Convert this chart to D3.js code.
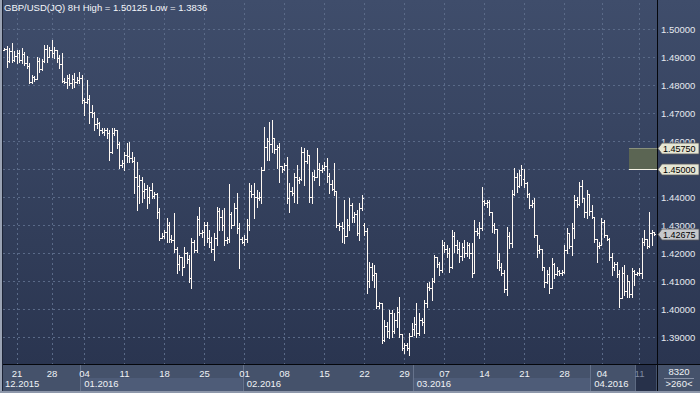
<!DOCTYPE html>
<html>
<head>
<meta charset="utf-8">
<script src="https://cdn.jsdelivr.net/npm/d3@7"></script>
<style>
html, body { margin: 0; padding: 0; background: #2c3852; }
svg { display: block; font-family: "Liberation Sans", Arial, sans-serif; }
</style>
</head>
<body>
<div id="chart"></div>
<script>
// GBP/USD 8H bars (one value per bar)
var opens = [
    1.4926,1.4930,1.4885,1.4920,1.4890,1.4905,1.4915,1.4890,1.4912,1.4880,
    1.4868,1.4812,1.4828,1.4822,1.4885,1.4858,1.4885,1.4930,1.4900,1.4925,
    1.4915,1.4925,1.4895,1.4875,1.4815,1.4810,1.4825,1.4806,1.4822,1.4810,
    1.4818,1.4825,1.4745,1.4740,1.4750,1.4705,1.4700,1.4660,1.4665,1.4640,
    1.4632,1.4640,1.4630,1.4560,1.4630,1.4638,1.4590,1.4515,1.4520,1.4550,
    1.4545,1.4540,1.4530,1.4470,1.4440,1.4460,1.4420,1.4430,1.4400,1.4425,
    1.4405,1.4410,1.4345,1.4255,1.4262,1.4275,1.4300,1.4250,1.4245,1.4215,
    1.4160,1.4185,1.4150,1.4200,1.4180,1.4110,1.4240,1.4210,1.4320,1.4270,
    1.4275,1.4300,1.4255,1.4240,1.4215,1.4255,1.4350,1.4330,1.4300,1.4245,
    1.4250,1.4340,1.4300,1.4360,1.4290,1.4250,1.4240,1.4250,1.4300,1.4420,
    1.4410,1.4400,1.4395,1.4400,1.4495,1.4580,1.4600,1.4590,1.4610,1.4570,
    1.4580,1.4510,1.4500,1.4515,1.4395,1.4420,1.4415,1.4470,1.4460,1.4465,
    1.4560,1.4530,1.4550,1.4400,1.4475,1.4470,1.4500,1.4495,1.4505,1.4510,
    1.4475,1.4445,1.4430,1.4420,1.4300,1.4295,1.4290,1.4260,1.4300,1.4370,
    1.4330,1.4340,1.4270,1.4360,1.4300,1.4280,1.4100,1.4150,1.4120,1.4130,
    1.4010,1.4020,1.3890,1.3940,1.3920,1.3985,1.3920,1.3960,1.3990,1.3910,
    1.3860,1.3870,1.3860,1.3905,1.3930,1.3945,1.3915,1.3960,1.3955,1.4020,
    1.4080,1.4075,1.4100,1.4185,1.4160,1.4140,1.4230,1.4215,1.4200,1.4150,
    1.4260,1.4230,1.4215,1.4190,1.4220,1.4200,1.4230,1.4200,1.4130,1.4280,
    1.4270,1.4290,1.4385,1.4378,1.4383,1.4345,1.4300,1.4285,1.4175,1.4150,
    1.4130,1.4070,1.4260,1.4235,1.4410,1.4470,1.4440,1.4480,1.4465,1.4450,
    1.4410,1.4370,1.4380,1.4265,1.4210,1.4215,1.4150,1.4095,1.4125,1.4075,
    1.4160,1.4125,1.4135,1.4128,1.4132,1.4210,1.4270,1.4225,1.4290,1.4390,
    1.4375,1.4440,1.4395,1.4345,1.4410,1.4350,1.4330,1.4250,1.4225,1.4230,
    1.4310,1.4265,1.4250,1.4185,1.4150,1.4160,1.4125,1.4040,1.4130,1.4065,
    1.4100,1.4055,1.4135,1.4125,1.4128,1.4130,1.4240,1.4250,1.4225,1.4270,
    1.4275
];
var highs = [
    1.4932,1.4939,1.4931,1.4949,1.4921,1.4925,1.4925,1.4931,1.4919,1.4905,
    1.4877,1.4836,1.4832,1.4901,1.4898,1.4893,1.4943,1.4943,1.4937,1.4961,
    1.4937,1.4925,1.4907,1.4913,1.4824,1.4836,1.4840,1.4836,1.4842,1.4830,
    1.4848,1.4836,1.4753,1.4818,1.4764,1.4729,1.4702,1.4681,1.4669,1.4645,
    1.4645,1.4645,1.4639,1.4645,1.4645,1.4640,1.4598,1.4532,1.4562,1.4592,
    1.4598,1.4562,1.4544,1.4526,1.4479,1.4473,1.4449,1.4443,1.4437,1.4449,
    1.4419,1.4413,1.4360,1.4270,1.4282,1.4324,1.4312,1.4264,1.4342,1.4223,
    1.4193,1.4187,1.4223,1.4205,1.4193,1.4252,1.4246,1.4333,1.4365,1.4282,
    1.4312,1.4312,1.4282,1.4258,1.4270,1.4365,1.4360,1.4354,1.4360,1.4258,
    1.4446,1.4348,1.4377,1.4413,1.4306,1.4258,1.4264,1.4321,1.4449,1.4443,
    1.4449,1.4425,1.4419,1.4508,1.4651,1.4610,1.4669,1.4675,1.4610,1.4586,
    1.4592,1.4510,1.4520,1.4544,1.4449,1.4437,1.4484,1.4514,1.4473,1.4580,
    1.4574,1.4568,1.4550,1.4490,1.4496,1.4574,1.4520,1.4514,1.4526,1.4538,
    1.4484,1.4461,1.4520,1.4420,1.4306,1.4312,1.4389,1.4321,1.4395,1.4377,
    1.4348,1.4354,1.4377,1.4407,1.4306,1.4288,1.4169,1.4163,1.4157,1.4130,
    1.4026,1.4020,1.3961,1.3955,1.3996,1.3996,1.3985,1.4008,1.4044,1.3910,
    1.3877,1.3877,1.3913,1.3949,1.3973,1.4020,1.3985,1.3967,1.4032,1.4092,
    1.4098,1.4110,1.4193,1.4187,1.4169,1.4246,1.4240,1.4229,1.4217,1.4282,
    1.4276,1.4246,1.4240,1.4235,1.4246,1.4240,1.4235,1.4235,1.4318,1.4288,
    1.4312,1.4437,1.4389,1.4389,1.4389,1.4345,1.4306,1.4285,1.4199,1.4163,
    1.4139,1.4294,1.4276,1.4425,1.4502,1.4484,1.4496,1.4514,1.4500,1.4455,
    1.4413,1.4389,1.4395,1.4265,1.4229,1.4215,1.4151,1.4139,1.4151,1.4181,
    1.4163,1.4151,1.4139,1.4139,1.4229,1.4288,1.4270,1.4306,1.4407,1.4401,
    1.4455,1.4461,1.4395,1.4425,1.4410,1.4372,1.4330,1.4250,1.4240,1.4324,
    1.4318,1.4265,1.4252,1.4199,1.4169,1.4169,1.4139,1.4151,1.4157,1.4121,
    1.4100,1.4145,1.4139,1.4133,1.4145,1.4252,1.4282,1.4250,1.4348,1.4282,
    1.4276
];
var lows = [
    1.4924,1.4863,1.4883,1.4883,1.4887,1.4877,1.4883,1.4877,1.4871,1.4860,
    1.4806,1.4808,1.4815,1.4820,1.4848,1.4855,1.4883,1.4883,1.4900,1.4901,
    1.4895,1.4883,1.4860,1.4812,1.4806,1.4788,1.4800,1.4788,1.4794,1.4806,
    1.4806,1.4735,1.4693,1.4735,1.4663,1.4687,1.4639,1.4645,1.4621,1.4627,
    1.4621,1.4609,1.4532,1.4556,1.4621,1.4574,1.4502,1.4508,1.4496,1.4526,
    1.4524,1.4524,1.4413,1.4354,1.4377,1.4383,1.4395,1.4360,1.4377,1.4395,
    1.4395,1.4324,1.4246,1.4252,1.4252,1.4240,1.4240,1.4240,1.4205,1.4127,
    1.4139,1.4121,1.4150,1.4163,1.4098,1.4074,1.4205,1.4205,1.4264,1.4258,
    1.4229,1.4240,1.4223,1.4205,1.4175,1.4229,1.4282,1.4282,1.4229,1.4234,
    1.4240,1.4288,1.4300,1.4270,1.4145,1.4234,1.4229,1.4238,1.4282,1.4401,
    1.4324,1.4365,1.4389,1.4377,1.4495,1.4532,1.4532,1.4562,1.4556,1.4502,
    1.4455,1.4490,1.4495,1.4377,1.4348,1.4407,1.4383,1.4377,1.4449,1.4461,
    1.4443,1.4520,1.4383,1.4377,1.4461,1.4470,1.4443,1.4490,1.4496,1.4455,
    1.4413,1.4425,1.4407,1.4294,1.4282,1.4240,1.4235,1.4260,1.4282,1.4312,
    1.4312,1.4264,1.4246,1.4354,1.4264,1.4056,1.4080,1.4104,1.4080,1.4002,
    1.4002,1.3877,1.3885,1.3901,1.3895,1.3901,1.3914,1.3937,1.3901,1.3854,
    1.3842,1.3854,1.3836,1.3905,1.3907,1.3901,1.3907,1.3943,1.3913,1.4008,
    1.4068,1.4032,1.4098,1.4151,1.4121,1.4133,1.4205,1.4187,1.4133,1.4145,
    1.4205,1.4199,1.4169,1.4175,1.4187,1.4190,1.4181,1.4115,1.4130,1.4264,
    1.4252,1.4282,1.4371,1.4365,1.4336,1.4276,1.4270,1.4145,1.4140,1.4121,
    1.4062,1.4050,1.4217,1.4223,1.4407,1.4419,1.4437,1.4443,1.4437,1.4401,
    1.4360,1.4365,1.4258,1.4187,1.4199,1.4139,1.4080,1.4092,1.4056,1.4075,
    1.4110,1.4121,1.4121,1.4121,1.4127,1.4199,1.4217,1.4193,1.4252,1.4365,
    1.4372,1.4383,1.4330,1.4324,1.4336,1.4324,1.4240,1.4169,1.4217,1.4230,
    1.4258,1.4246,1.4175,1.4121,1.4139,1.4115,1.4008,1.4040,1.4050,1.4044,
    1.4044,1.4044,1.4086,1.4121,1.4121,1.4110,1.4229,1.4217,1.4223,1.4229,
    1.4264
];
var closes = [
    1.4930,1.4885,1.4920,1.4890,1.4905,1.4915,1.4890,1.4912,1.4880,1.4868,
    1.4812,1.4828,1.4822,1.4885,1.4858,1.4885,1.4930,1.4900,1.4925,1.4915,
    1.4925,1.4895,1.4875,1.4815,1.4810,1.4825,1.4806,1.4822,1.4810,1.4818,
    1.4825,1.4745,1.4740,1.4750,1.4705,1.4700,1.4660,1.4665,1.4640,1.4632,
    1.4640,1.4630,1.4560,1.4630,1.4638,1.4590,1.4515,1.4520,1.4550,1.4545,
    1.4540,1.4530,1.4470,1.4440,1.4460,1.4420,1.4430,1.4400,1.4425,1.4405,
    1.4410,1.4345,1.4255,1.4262,1.4275,1.4300,1.4250,1.4245,1.4215,1.4160,
    1.4185,1.4150,1.4200,1.4180,1.4110,1.4240,1.4210,1.4320,1.4270,1.4275,
    1.4300,1.4255,1.4240,1.4215,1.4255,1.4350,1.4330,1.4300,1.4245,1.4250,
    1.4340,1.4300,1.4360,1.4290,1.4250,1.4240,1.4250,1.4300,1.4420,1.4410,
    1.4400,1.4395,1.4400,1.4495,1.4580,1.4600,1.4590,1.4610,1.4570,1.4580,
    1.4510,1.4500,1.4515,1.4395,1.4420,1.4415,1.4470,1.4460,1.4465,1.4560,
    1.4530,1.4550,1.4400,1.4475,1.4470,1.4500,1.4495,1.4505,1.4510,1.4475,
    1.4445,1.4430,1.4420,1.4300,1.4295,1.4290,1.4260,1.4300,1.4370,1.4330,
    1.4340,1.4270,1.4360,1.4395,1.4280,1.4100,1.4150,1.4120,1.4130,1.4010,
    1.4020,1.3890,1.3940,1.3920,1.3985,1.3920,1.3960,1.3990,1.3910,1.3860,
    1.3870,1.3860,1.3905,1.3930,1.3945,1.3915,1.3960,1.3955,1.4020,1.4080,
    1.4075,1.4100,1.4185,1.4160,1.4140,1.4230,1.4215,1.4200,1.4150,1.4260,
    1.4230,1.4215,1.4190,1.4220,1.4200,1.4230,1.4200,1.4130,1.4280,1.4270,
    1.4290,1.4385,1.4378,1.4383,1.4345,1.4300,1.4285,1.4175,1.4150,1.4130,
    1.4070,1.4260,1.4235,1.4410,1.4470,1.4440,1.4480,1.4500,1.4450,1.4410,
    1.4370,1.4380,1.4265,1.4210,1.4215,1.4150,1.4095,1.4125,1.4075,1.4160,
    1.4125,1.4135,1.4128,1.4132,1.4210,1.4270,1.4225,1.4290,1.4390,1.4375,
    1.4440,1.4395,1.4345,1.4410,1.4350,1.4330,1.4250,1.4225,1.4230,1.4310,
    1.4265,1.4250,1.4185,1.4150,1.4160,1.4125,1.4040,1.4130,1.4065,1.4100,
    1.4055,1.4135,1.4125,1.4128,1.4130,1.4240,1.4250,1.4225,1.4270,1.4275,
    1.42675
];

// bar index of each Monday and its day label
var weekTicks  = [5, 19, 32, 48, 64, 80, 96, 112, 128, 144, 160, 176, 192, 208, 224, 239, 254];
var weekLabels = ["21","28","04","11","18","25","01","08","15","22","29","07","14","21","28","04","11"];

// first bar of each month
var monthStarts = [0, 31, 96, 164, 235];
var monthLabels = ["12.2015", "01.2016", "02.2016", "03.2016", "04.2016"];

var priceTicks = [1.39, 1.40, 1.41, 1.42, 1.43, 1.44, 1.45, 1.46, 1.47, 1.48, 1.49, 1.50];

var zoneTop = 1.4575;
var zoneBottom = 1.45;
var lastPrice = 1.42675;

var titleText = "GBP/USD(JQ) 8H High = 1.50125 Low = 1.3836";
var cornerTop = "8320";
var cornerBottom = ">260<";

display();

function display() {
    var width = 700,
        height = 393,
        plotLeft = 3,
        plotRight = 657,
        axisTop = 365;

    var x = d3.scaleLinear()
        .domain([0, closes.length - 1])
        .range([4, 654]);

    var y = d3.scaleLinear()
        .domain([1.39, 1.50])
        .range([337, 29]);

    var fmt = d3.format(".5f");

    var svg = d3.select("#chart").append("svg")
        .attr("width", width)
        .attr("height", height);

    var grad = svg.append("defs").append("linearGradient")
        .attr("id", "bg")
        .attr("x1", 0).attr("y1", 0)
        .attr("x2", 0).attr("y2", 1);
    grad.append("stop").attr("offset", "0%").attr("stop-color", "#3f4d6b");
    grad.append("stop").attr("offset", "100%").attr("stop-color", "#2a3550");

    svg.append("rect")
        .attr("width", width)
        .attr("height", axisTop)
        .attr("fill", "url(#bg)");

    // bottom date strip
    svg.append("rect")
        .attr("y", axisTop)
        .attr("width", width)
        .attr("height", height - axisTop)
        .attr("fill", "#45526b");

    function boundary(i) { return i === 0 ? plotLeft : x(i) - 1.25; }

    // lighter band for every other month
    svg.selectAll(".band")
        .data(monthStarts)
        .enter().append("rect")
        .attr("class", "band")
        .attr("x", function(d) { return boundary(d); })
        .attr("y", 378)
        .attr("width", function(d, i) {
            var end = i + 1 < monthStarts.length ? boundary(monthStarts[i + 1]) : plotRight;
            return end - boundary(d);
        })
        .attr("height", 13)
        .attr("fill", function(d, i) { return i % 2 === 1 ? "#4e5c78" : "none"; });

    svg.selectAll(".sep")
        .data(monthStarts.slice(1))
        .enter().append("line")
        .attr("class", "sep")
        .attr("x1", function(d) { return Math.round(boundary(d)) + 0.5; })
        .attr("x2", function(d) { return Math.round(boundary(d)) + 0.5; })
        .attr("y1", axisTop)
        .attr("y2", 391)
        .attr("stroke", "#66738c");

    // current week box
    var lastWeek = weekTicks[weekTicks.length - 1];
    svg.append("rect")
        .attr("x", x(lastWeek) - 4)
        .attr("y", axisTop)
        .attr("width", plotRight - 1 - (x(lastWeek) - 4))
        .attr("height", 26)
        .attr("fill", "#27314a");
    svg.append("line")
        .attr("x1", Math.round(x(lastWeek) - 4) + 0.5)
        .attr("x2", Math.round(x(lastWeek) - 4) + 0.5)
        .attr("y1", axisTop).attr("y2", 391)
        .attr("stroke", "#5d6a82");

    // grid lines
    svg.append("g")
        .attr("class", "grid-x")
        .attr("transform", "translate(0," + axisTop + ")")
        .call(d3.axisBottom(x).tickValues(weekTicks).tickSize(-axisTop).tickFormat(""))
        .call(function(g) { g.select(".domain").remove(); });

    svg.append("g")
        .attr("class", "grid-y")
        .attr("transform", "translate(" + plotLeft + ",0)")
        .call(d3.axisRight(y).tickValues(priceTicks).tickSize(plotRight - plotLeft).tickFormat(""))
        .call(function(g) { g.select(".domain").remove(); });

    svg.selectAll(".grid-x line, .grid-y line")
        .attr("stroke", "#5a6a88")
        .attr("stroke-dasharray", "2,3")
        .attr("shape-rendering", "crispEdges");

    // OHLC bars
    var bars = d3.range(closes.length);
    svg.append("g")
        .attr("class", "bars")
        .selectAll("path")
        .data(bars)
        .enter().append("path")
        .attr("d", function(i) {
            var px = Math.round(x(i)) + 0.5;
            var yo = Math.round(y(opens[i])) + 0.5;
            var yc = Math.round(y(closes[i])) + 0.5;
            return "M" + px + "," + Math.round(y(highs[i])) + "V" + (Math.round(y(lows[i])) + 1) +
                   "M" + (px - 1.5) + "," + yo + "H" + px +
                   "M" + px + "," + yc + "H" + (px + 1.5);
        })
        .attr("fill", "none")
        .attr("stroke", "#fff9f3")
        .attr("stroke-width", 1)
        .attr("shape-rendering", "crispEdges");

    // zone box next to price scale
    svg.append("rect")
        .attr("x", 629)
        .attr("y", y(zoneTop))
        .attr("width", plotRight - 629)
        .attr("height", y(zoneBottom) - y(zoneTop))
        .attr("fill", "#5b6553");
    svg.append("line")
        .attr("x1", 629).attr("x2", plotRight)
        .attr("y1", Math.round(y(zoneTop)) + 0.5).attr("y2", Math.round(y(zoneTop)) + 0.5)
        .attr("stroke", "#8a917c");
    svg.append("line")
        .attr("x1", 629).attr("x2", plotRight)
        .attr("y1", Math.round(y(zoneBottom)) + 0.5).attr("y2", Math.round(y(zoneBottom)) + 0.5)
        .attr("stroke", "#f4f2e4");

    // price axis (the 1.45 level is shown by its own callout)
    var axisTicks = priceTicks.filter(function(v) { return Math.abs(v - zoneBottom) > 1e-9; });
    svg.append("g")
        .attr("class", "y-axis")
        .attr("transform", "translate(" + (plotRight + 1) + ",0)")
        .call(d3.axisRight(y).tickValues(axisTicks).tickSize(0).tickPadding(3).tickFormat(fmt))
        .call(function(g) { g.select(".domain").remove(); });

    svg.selectAll(".y-axis text")
        .attr("fill", "#e6e9ef")
        .attr("font-family", "'Liberation Sans', Arial, sans-serif")
        .attr("font-size", "9.5px")
        .attr("dy", "0.36em");

    // date axis
    svg.append("g")
        .attr("class", "x-axis")
        .attr("transform", "translate(0," + axisTop + ")")
        .call(d3.axisBottom(x).tickValues(weekTicks).tickSize(0)
              .tickFormat(function(d, i) { return weekLabels[i]; }))
        .call(function(g) { g.select(".domain").remove(); });

    svg.selectAll(".x-axis text")
        .attr("dy", null)
        .attr("y", 12)
        .attr("fill", function(d) { return d === lastWeek ? "#7f8ba2" : "#f0f2f6"; })
        .attr("font-family", "'Liberation Sans', Arial, sans-serif")
        .attr("font-size", "9.5px");

    svg.selectAll(".month")
        .data(monthStarts)
        .enter().append("text")
        .attr("class", "month")
        .attr("x", function(d, i) { return i === 0 ? 5 : boundary(d) + 4; })
        .attr("y", 387)
        .attr("fill", "#f0f2f6")
        .attr("font-size", "9.5px")
        .text(function(d, i) { return monthLabels[i]; });

    // frame lines
    svg.append("line")
        .attr("x1", 0).attr("x2", width)
        .attr("y1", axisTop - 0.5).attr("y2", axisTop - 0.5)
        .attr("stroke", "#05070c");
    svg.append("line")
        .attr("x1", plotRight + 0.5).attr("x2", plotRight + 0.5)
        .attr("y1", 0).attr("y2", height)
        .attr("stroke", "#05070c");
    svg.append("rect")
        .attr("x", 0).attr("y", 0)
        .attr("width", 2).attr("height", height)
        .attr("fill", "#9aa3b4");
    svg.append("line")
        .attr("x1", 2.5).attr("x2", 2.5)
        .attr("y1", 0).attr("y2", height)
        .attr("stroke", "#1c2335");
    svg.append("rect")
        .attr("x", 0).attr("y", height - 2)
        .attr("width", width).attr("height", 2)
        .attr("fill", "#8d97aa");

    // price callouts
    var callouts = [
        {v: zoneTop, fill: "#e6e6d4"},
        {v: zoneBottom, fill: "#e6e6d4"},
        {v: lastPrice, fill: "#c6c8cc"}
    ];
    var co = svg.selectAll(".callout")
        .data(callouts)
        .enter().append("g")
        .attr("class", "callout")
        .attr("transform", function(d) { return "translate(0," + (Math.round(y(d.v)) + 0.5) + ")"; });
    co.append("path")
        .attr("d", "M658,0L662,-5.5H699V5.5H662Z")
        .attr("fill", function(d) { return d.fill; })
        .attr("stroke", "#55575a")
        .attr("stroke-width", 0.8);
    co.append("text")
        .attr("x", 663)
        .attr("y", 3.3)
        .attr("fill", "#000")
        .attr("font-size", "9px")
        .text(function(d) { return fmt(d.v); });

    // corner cell
    svg.append("text")
        .attr("x", 679).attr("y", 375)
        .attr("text-anchor", "middle")
        .attr("fill", "#f0f2f6")
        .attr("font-size", "9.5px")
        .text(cornerTop);
    svg.append("line")
        .attr("x1", 664).attr("x2", 694)
        .attr("y1", 378.5).attr("y2", 378.5)
        .attr("stroke", "#8791a6");
    svg.append("text")
        .attr("x", 679).attr("y", 387)
        .attr("text-anchor", "middle")
        .attr("fill", "#f0f2f6")
        .attr("font-size", "9.5px")
        .text(cornerBottom);

    // title
    svg.append("text")
        .attr("x", 4)
        .attr("y", 11)
        .attr("fill", "#f4f6fa")
        .attr("font-size", "9.5px")
        .text(titleText);
}
</script>
</body>
</html>
